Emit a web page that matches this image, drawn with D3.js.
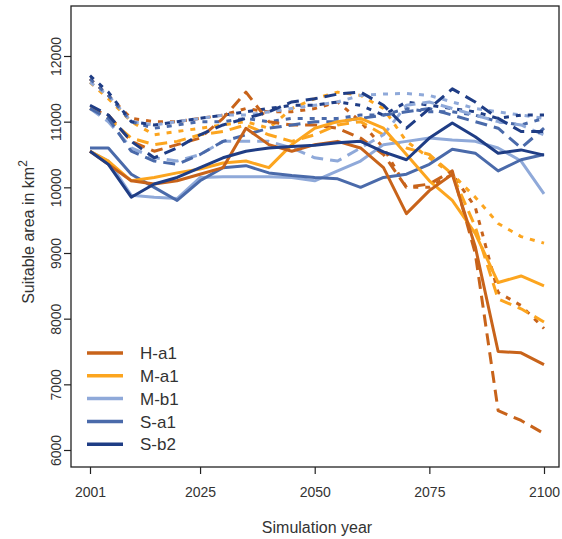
<!DOCTYPE html>
<html>
<head>
<meta charset="utf-8">
<script src="https://cdn.jsdelivr.net/npm/d3@7"></script>
<style>
  html, body { margin: 0; padding: 0; background: #fff; }
  svg { display: block; font-family: "Liberation Sans", Arial, sans-serif; }
</style>
</head>
<body>
<svg id="chart" width="562" height="539"></svg>
<script>
// Simulation years (5-year steps)
const years = [2001, 2005, 2010, 2015, 2020, 2025, 2030, 2035, 2040, 2045, 2050,
               2055, 2060, 2065, 2070, 2075, 2080, 2085, 2090, 2095, 2100];

const scenarios = ["H-a1", "M-a1", "M-b1", "S-a1", "S-b2"];
const scenarioColors = ["#c8631a", "#fca51f", "#8fa9d9", "#4a6aaa", "#1f3d85"];

// Suitable area (km²) per scenario: solid, dashed and dotted variants
const ha1Solid  = [10550,10350,10100,10050,10100,10200,10300,10900,10650,10550,10650,10700,10600,10300, 9600, 9950,10200, 9100, 7500, 7480, 7300];
const ha1Dashed = [11200,11100,10700,10550,10650,10750,11050,11450,11000,10950,10950,10900,10750,10500,10000,10050,10250, 9000, 6600, 6450, 6250];
const ha1Dotted = [11650,11400,11050,11000,11000,11050,11100,11200,11150,11150,11200,11300,11000,10600,10000,10000,10200, 9700, 8400, 8200, 7850];

const ma1Solid  = [10550,10400,10100,10150,10220,10280,10370,10400,10300,10650,10900,11000,11050,10900,10500,10100, 9800, 9300, 8550, 8650, 8500];
const ma1Dashed = [11200,11050,10750,10650,10700,10800,10850,10950,10800,10700,10800,10950,11000,10800,10600,10500,10200, 9400, 8300, 8150, 7950];
const ma1Dotted = [11600,11350,11000,10800,10850,10900,10950,11000,10900,11200,11350,11450,11400,11200,10700,10450,10200, 9850, 9450, 9250, 9150];

const mb1Solid  = [10550,10400, 9880, 9850, 9830,10150,10160,10160,10160,10150,10100,10250,10400,10650,10700,10750,10720,10700,10600,10400, 9900];
const mb1Dashed = [11200,11000,10600,10450,10400,10500,10700,10700,10700,10600,10450,10400,10600,10800,11250,11300,11200,11100,11000,10950,10800];
const mb1Dotted = [11600,11400,11000,10950,11000,11050,11100,11100,11150,11200,11250,11300,11400,11420,11430,11400,11300,11200,11150,11100,11050];

const sa1Solid  = [10600,10600,10200,10000, 9800,10100,10300,10330,10220,10180,10150,10130,10000,10150,10200,10350,10580,10520,10250,10420,10500];
const sa1Dashed = [11200,11050,10550,10400,10350,10500,10700,10800,10900,10950,11000,11000,11050,11100,11150,11200,11100,11000,10900,10600,10900];
const sa1Dotted = [11650,11400,11000,10900,10950,11000,11000,11050,11000,11050,11050,11050,11100,11100,11200,11150,11150,11100,11000,10950,11050];

const sb2Solid  = [10550,10350, 9850,10050,10150,10300,10450,10550,10600,10620,10640,10680,10700,10540,10420,10750,10980,10770,10520,10570,10490];
const sb2Dashed = [11250,11100,10700,10450,10600,10800,10950,11050,11150,11300,11350,11420,11450,11250,10900,11200,11500,11300,11050,10850,10850];
const sb2Dotted = [11700,11450,11000,10950,11000,11050,11100,11150,11200,11250,11250,11300,11250,11100,11300,11250,11200,11150,11050,11100,11100];

const yTicks = [6000, 7000, 8000, 9000, 10000, 11000, 12000];
const xTicks = [2001, 2025, 2050, 2075, 2100];

const series = [
  { name: "H-a1", style: "dotted", values: ha1Dotted },
  { name: "M-a1", style: "dotted", values: ma1Dotted },
  { name: "M-b1", style: "dotted", values: mb1Dotted },
  { name: "S-a1", style: "dotted", values: sa1Dotted },
  { name: "S-b2", style: "dotted", values: sb2Dotted },
  { name: "H-a1", style: "dashed", values: ha1Dashed },
  { name: "M-a1", style: "dashed", values: ma1Dashed },
  { name: "M-b1", style: "dashed", values: mb1Dashed },
  { name: "S-a1", style: "dashed", values: sa1Dashed },
  { name: "S-b2", style: "dashed", values: sb2Dashed },
  { name: "M-b1", style: "solid",  values: mb1Solid },
  { name: "S-a1", style: "solid",  values: sa1Solid },
  { name: "M-a1", style: "solid",  values: ma1Solid },
  { name: "H-a1", style: "solid",  values: ha1Solid },
  { name: "S-b2", style: "solid",  values: sb2Solid }
];

const dashes = { solid: null, dashed: "12,7", dotted: "5,7" };

const svg = d3.select("#chart");
const box = { left: 71, right: 559, top: 6, bottom: 467 };

const x = d3.scaleLinear().domain([2001, 2100]).range([90, 544]);
const y = d3.scaleLinear().domain([6000, 12000]).range([450, 56]);
const color = d3.scaleOrdinal().domain(scenarios).range(scenarioColors);

// Lines
const line = d3.line().x((d, i) => x(years[i])).y(d => y(d));
const plot = svg.append("g");
series.forEach(s => {
  plot.append("path")
    .datum(s.values)
    .attr("d", line)
    .attr("fill", "none")
    .attr("stroke", color(s.name))
    .attr("stroke-width", 3)
    .attr("stroke-linejoin", "round")
    .attr("stroke-dasharray", dashes[s.style]);
});

// Frame
svg.append("rect")
  .attr("x", box.left).attr("y", box.top)
  .attr("width", box.right - box.left).attr("height", box.bottom - box.top)
  .attr("fill", "none").attr("stroke", "#222").attr("stroke-width", 1.3);

// Axes
const yAxis = d3.axisLeft(y).tickValues(yTicks).tickSize(7).tickFormat(d3.format("d"));
const gy = svg.append("g").attr("transform", `translate(${box.left},0)`).call(yAxis);
gy.select(".domain").remove();
gy.selectAll(".tick line").attr("stroke", "#222").attr("stroke-width", 1.2);
gy.selectAll(".tick text")
  .attr("x", 0).attr("dy", 0)
  .attr("transform", "translate(-10,0) rotate(-90)")
  .attr("text-anchor", "middle")
  .attr("font-size", 14).attr("fill", "#333");

const xAxis = d3.axisBottom(x).tickValues(xTicks).tickSize(7).tickFormat(d3.format("d"));
const gx = svg.append("g").attr("transform", `translate(0,${box.bottom})`).call(xAxis);
gx.select(".domain").remove();
gx.selectAll(".tick line").attr("stroke", "#222").attr("stroke-width", 1.2);
gx.selectAll(".tick text").attr("y", 20).attr("dy", "0.71em")
  .attr("font-size", 14).attr("fill", "#333");

// Axis titles
svg.append("text")
  .attr("x", (box.left + box.right) / 2 + 2).attr("y", 533)
  .attr("text-anchor", "middle").attr("font-size", 16).attr("fill", "#333")
  .text("Simulation year");

const yTitle = svg.append("text")
  .attr("transform", "translate(34,232) rotate(-90)")
  .attr("text-anchor", "middle").attr("font-size", 16).attr("fill", "#333");
yTitle.append("tspan").text("Suitable area in km");
yTitle.append("tspan").attr("dy", -7).attr("font-size", 12).text("2");

// Legend
const legend = svg.append("g");
scenarios.forEach((name, i) => {
  const ly = 353 + i * 22.8;
  legend.append("line")
    .attr("x1", 87).attr("x2", 123).attr("y1", ly).attr("y2", ly)
    .attr("stroke", color(name)).attr("stroke-width", 3.5);
  legend.append("text")
    .attr("x", 140).attr("y", ly).attr("dy", "0.36em")
    .attr("font-size", 17).attr("fill", "#333")
    .text(name);
});
</script>
</body>
</html>
